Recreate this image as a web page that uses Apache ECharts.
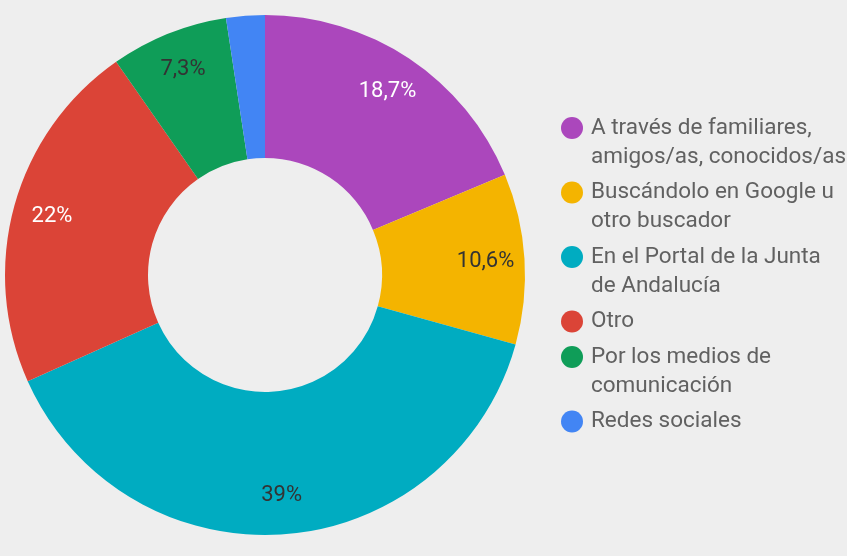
<!DOCTYPE html>
<html>
<head>
<meta charset="utf-8">
<script src="https://cdn.jsdelivr.net/npm/echarts@6/dist/echarts.min.js"></script>
<style>
  html, body { margin: 0; padding: 0; background: #eeeeee; }
  #chart { width: 847px; height: 556px; }
</style>
</head>
<body>
<div id="chart"></div>
<script>
const categories = [
  'A través de familiares, amigos/as, conocidos/as',
  'Buscándolo en Google u otro buscador',
  'En el Portal de la Junta de Andalucía',
  'Otro',
  'Por los medios de comunicación',
  'Redes sociales'
];
const legendLabels = [
  'A través de familiares,\namigos/as, conocidos/as',
  'Buscándolo en Google u\notro buscador',
  'En el Portal de la Junta\nde Andalucía',
  'Otro',
  'Por los medios de\ncomunicación',
  'Redes sociales'
];
const values = [18.7, 10.6, 39, 22, 7.3, 2.4];
const colors = ['#AB47BC', '#F4B400', '#00ACC1', '#DB4437', '#0F9D58', '#4285F4'];
const labelColors = ['#ffffff', '#333333', '#333333', '#ffffff', '#333333', '#333333'];

const chart = echarts.init(document.getElementById('chart'), null, { renderer: 'canvas' });

const fmtPct = v => String(v).replace('.', ',') + '%';

// one legend component per item so that the marker aligns with the first text line
const LINE_H = 29;
const ITEM_GAP = 6.5;
const ICON_W = 28;
const ICON_H = 22;
const legends = [];
let c = 128;
categories.forEach((name, i) => {
  const lines = legendLabels[i].split('\n').length;
  const twoLine = lines > 1;
  const top = twoLine ? c - (LINE_H * 3) / 2 : c - LINE_H / 2;
  legends.push({
    data: [{ name: name, icon: 'circle' }],
    orient: 'vertical',
    left: 561,
    top: top,
    padding: 0,
    itemWidth: ICON_W,
    itemHeight: ICON_H,
    symbolKeepAspect: true,
    selectedMode: false,
    formatter: () => (twoLine ? ' \n' : '') + legendLabels[i],
    textStyle: {
      fontFamily: 'Roboto',
      fontSize: 22.5,
      color: '#616161',
      lineHeight: LINE_H
    }
  });
  c += lines * LINE_H + ITEM_GAP;
});

const mainData = categories.map((name, i) => ({
  name: name,
  value: values[i],
  itemStyle: { color: colors[i] }
}));
const labelData = categories.map((name, i) => ({
  name: name,
  value: values[i],
  label: { show: values[i] >= 5, color: labelColors[i] }
}));

chart.setOption({
  backgroundColor: '#eeeeee',
  animation: false,
  legend: legends,
  series: [
    {
      type: 'pie',
      center: [265, 275],
      radius: [117, 260],
      startAngle: 90,
      clockwise: true,
      silent: true,
      itemStyle: { borderWidth: 0 },
      label: { show: false },
      labelLine: { show: false },
      emphasis: { disabled: true },
      data: mainData
    },
    {
      type: 'pie',
      center: [265, 275],
      radius: [176, 260],
      startAngle: 90,
      clockwise: true,
      silent: true,
      itemStyle: { color: 'rgba(0,0,0,0)', borderWidth: 0 },
      label: {
        show: true,
        position: 'inside',
        fontFamily: 'Roboto',
        fontSize: 22,
        formatter: p => fmtPct(p.value)
      },
      labelLine: { show: false },
      emphasis: { disabled: true },
      data: labelData
    }
  ]
});
</script>
</body>
</html>
